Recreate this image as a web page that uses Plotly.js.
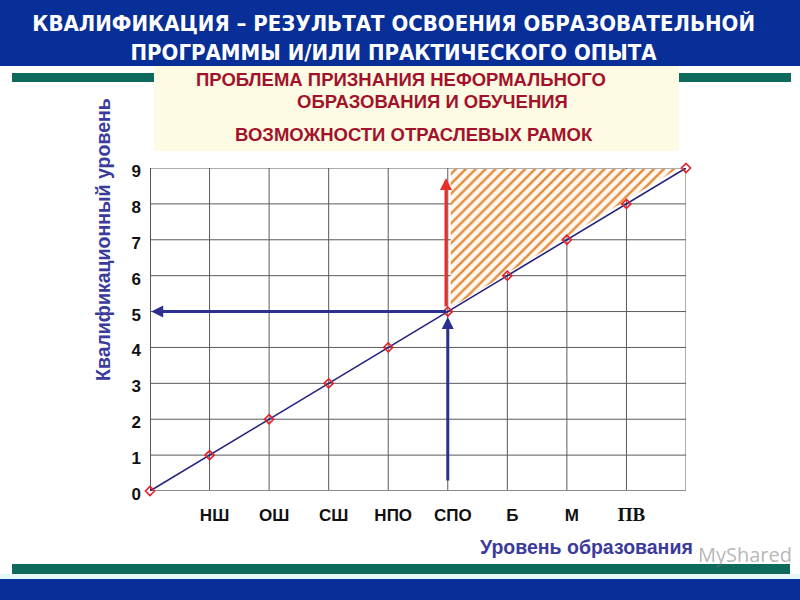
<!DOCTYPE html>
<html>
<head>
<meta charset="utf-8">
<script src="https://cdn.plot.ly/plotly-3.0.1.min.js"></script>
<style>html,body{margin:0;padding:0;background:#fff;}#chart{width:800px;height:600px;}</style>
</head>
<body>
<div id="chart"></div>
<script>
// ---- data ----
const levels = [0, 1, 2, 3, 4, 5, 6, 7, 8, 9];
const qualification = [0, 1, 2, 3, 4, 5, 6, 7, 8, 9];
const educationLabels = ['НШ', 'ОШ', 'СШ', 'НПО', 'СПО', 'Б', 'М', 'ПВ'];
const educationTicks = [1, 2, 3, 4, 5, 6, 7, 8];
const yTicks = [0, 1, 2, 3, 4, 5, 6, 7, 8, 9];
const hatchX = [5.05, 5.05, 8.85, 5.05];
const hatchY = [5.1, 8.97, 8.97, 5.1];
const spoLevel = 5;
const spoQual = 5;
const redArrowTop = 8.72;
const blueArrowBottom = 0.25;

const titleText = 'КВАЛИФИКАЦИЯ – РЕЗУЛЬТАТ ОСВОЕНИЯ ОБРАЗОВАТЕЛЬНОЙ<br>ПРОГРАММЫ И/ИЛИ ПРАКТИЧЕСКОГО ОПЫТА';
const boxLines = ['ПРОБЛЕМА ПРИЗНАНИЯ НЕФОРМАЛЬНОГО', 'ОБРАЗОВАНИЯ И ОБУЧЕНИЯ', 'ВОЗМОЖНОСТИ ОТРАСЛЕВЫХ РАМОК'];
const yTitle = 'Квалификационный уровень';
const xTitle = 'Уровень образования';
const watermark = 'MyShared';

// ---- geometry helpers (pixel -> paper) ----
const L = 150, R = 686, T = 168, B = 491;
const px = x => (x - L) / (R - L);
const py = y => (B - y) / (B - T);

const rect = (x0, y0, x1, y1, color) => ({
  type: 'rect', xref: 'paper', yref: 'paper', layer: 'below',
  x0: px(x0), x1: px(x1), y0: py(y1), y1: py(y0),
  fillcolor: color, line: {width: 0}
});

const tickText = educationLabels.map(t => t === 'ПВ'
  ? '<span style="font-family:\'Liberation Serif\',\'Times New Roman\',serif;font-size:19px">' + t + '</span>' : t);

const traces = [
  {
    x: hatchX, y: hatchY, type: 'scatter', mode: 'lines', fill: 'toself',
    line: {width: 0, color: 'rgba(0,0,0,0)'},
    fillcolor: '#fff6ee',
    fillpattern: {shape: '/', fgcolor: '#e48d3c', bgcolor: '#fff8f2', size: 7, solidity: 0.35},
    hoverinfo: 'skip', showlegend: false
  },
  {
    x: levels, y: qualification, type: 'scatter', mode: 'lines+markers',
    line: {color: '#23237e', width: 1.6},
    marker: {symbol: 'diamond-open', size: 7, color: '#e5202a', line: {width: 1.6, color: '#e5202a'}},
    cliponaxis: false, showlegend: false
  }
];

const arrowBase = {xref: 'x', yref: 'y', axref: 'x', ayref: 'y', text: '', showarrow: true, arrowhead: 2, arrowsize: 0.8, arrowwidth: 3};

const labelFont = {family: 'Arial, "Liberation Sans", sans-serif', size: 17, color: '#111111', weight: 'bold'};
const boxFont = {family: 'Arial, "Liberation Sans", sans-serif', size: 18.5, color: '#a3122b', weight: 'bold'};
const axisTitleFont = {family: 'Arial, "Liberation Sans", sans-serif', size: 19.5, color: '#3b3b9c', weight: 'bold'};

const layout = {
  width: 800, height: 600,
  margin: {l: L, r: 800 - R, t: T, b: 600 - B, pad: 0},
  paper_bgcolor: '#ffffff', plot_bgcolor: '#ffffff',
  showlegend: false,
  title: {
    text: titleText, x: 0.492, xanchor: 'center', y: 1 - 31 / 600, yanchor: 'middle', yref: 'container',
    font: {family: '"Liberation Sans Narrow", "Arial Narrow", "DejaVu Sans Condensed", sans-serif', size: 22, color: '#ffffff', weight: 'bold'}
  },
  xaxis: {
    range: [0, 9], tickvals: educationTicks, ticktext: tickText,
    showgrid: false, zeroline: false, showline: false, ticks: '',
    ticklabelshift: 5, ticklabelstandoff: 12,
    tickfont: labelFont, fixedrange: true
  },
  yaxis: {
    range: [0, 9], tickvals: yTicks,
    showgrid: false, zeroline: false, showline: false, ticks: '',
    ticklabelstandoff: 8, ticklabelshift: 3,
    tickfont: labelFont, fixedrange: true
  },
  shapes: [
    rect(0, 0, 800, 66, '#082f98'),
    rect(154, 66, 679, 151, '#fdfbe3'),
    rect(12, 73, 154, 82, '#0e6a5c'),
    rect(679, 73, 791, 82, '#0e6a5c'),
    rect(12, 564, 790, 574, '#0e6a5c'),
    rect(0, 574, 800, 579, '#e6f7f8'),
    rect(0, 579, 800, 600, '#082f98')
  ].concat(
    yTicks.slice(1).map(v => ({type: 'line', xref: 'x', yref: 'y', layer: 'below', x0: 0, x1: 9, y0: v, y1: v, line: {color: '#5a5a5a', width: 1}})),
    levels.slice(1).map(v => ({type: 'line', xref: 'x', yref: 'y', layer: 'below', x0: v, x1: v, y0: 0, y1: 9, line: {color: '#5a5a5a', width: 1}})),
    [
      {type: 'line', xref: 'x', yref: 'y', layer: 'below', x0: 0, x1: 9, y0: 0, y1: 0, line: {color: '#8a8a8a', width: 2}},
      {type: 'line', xref: 'x', yref: 'y', layer: 'below', x0: 0, x1: 0, y0: 0, y1: 9, line: {color: '#555555', width: 2}}
    ]
  ),
  annotations: [
    Object.assign({}, arrowBase, {x: 0.02, y: spoQual, ax: spoLevel, ay: spoQual, arrowcolor: '#2b2f8f'}),
    Object.assign({}, arrowBase, {x: spoLevel, y: spoQual - 0.15, ax: spoLevel, ay: blueArrowBottom, arrowcolor: '#2b2f8f'}),
    Object.assign({}, arrowBase, {x: spoLevel - 0.03, y: redArrowTop, ax: spoLevel - 0.03, ay: spoQual + 0.1, arrowcolor: '#e8302a'}),
    {xref: 'paper', yref: 'paper', x: px(401), y: py(80), text: boxLines[0], showarrow: false, xanchor: 'center', yanchor: 'middle', font: boxFont},
    {xref: 'paper', yref: 'paper', x: px(432), y: py(101), text: boxLines[1], showarrow: false, xanchor: 'center', yanchor: 'middle', font: boxFont},
    {xref: 'paper', yref: 'paper', x: px(414), y: py(135), text: boxLines[2], showarrow: false, xanchor: 'center', yanchor: 'middle', font: boxFont},
    {xref: 'paper', yref: 'paper', x: px(103), y: py(240), text: yTitle, textangle: -90, showarrow: false, xanchor: 'center', yanchor: 'middle', font: axisTitleFont},
    {xref: 'paper', yref: 'paper', x: px(586), y: py(547), text: xTitle, showarrow: false, xanchor: 'center', yanchor: 'middle', font: axisTitleFont},
    {xref: 'paper', yref: 'paper', x: px(745), y: py(554), text: watermark, showarrow: false, xanchor: 'center', yanchor: 'middle',
     font: {family: '"Open Sans", sans-serif', size: 20, color: 'rgba(120,120,120,0.55)'}}
  ]
};

Plotly.newPlot('chart', traces, layout, {displayModeBar: false, staticPlot: true});
</script>
</body>
</html>
